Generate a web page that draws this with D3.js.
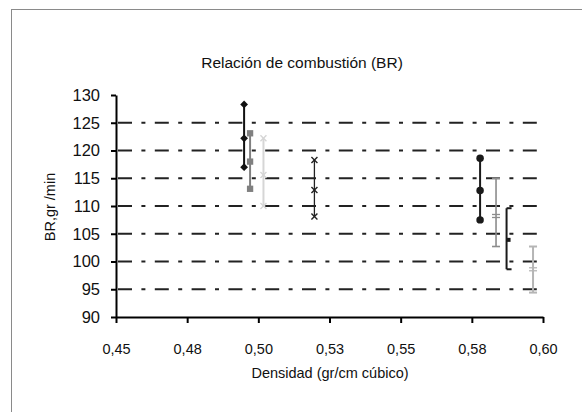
<!DOCTYPE html>
<html><head><meta charset="utf-8">
<script src="https://cdn.jsdelivr.net/npm/d3@7"></script>
<style>
body{margin:0;background:#fff}
text{font-family:"Liberation Sans",Arial,sans-serif;fill:#111}
</style>
</head><body>
<svg id="c" width="582" height="412"></svg>
<script>
// ---- data ----
const seriesNames = ["Serie 1","Serie 2","Serie 3","Serie 4","Serie 5","Serie 6","Serie 7","Serie 8"];
const densidad = [0.4950, 0.4971, 0.5018, 0.5197, 0.5779, 0.5835, 0.5872, 0.5965];
const brMedia  = [122.2, 118.0, 115.6, 112.9, 112.8, 108.2, 103.9, 98.6];
const brMin    = [117.0, 113.1, 110.0, 108.1, 107.5, 102.7, 98.6, 94.4];
const brMax    = [128.3, 123.1, 122.2, 118.3, 118.6, 115.0, 109.6, 102.7];
const xTicks = [0.45, 0.475, 0.5, 0.525, 0.55, 0.575, 0.6];
const xTickLabels = ["0,45","0,48","0,50","0,53","0,55","0,58","0,60"];
const yTicks = [90,95,100,105,110,115,120,125,130];
const gridValues = [95,100,105,110,115,120,125];
const title = "Relación de combustión (BR)";
const xTitle = "Densidad (gr/cm cúbico)";
const yTitle = "BR,gr /min";

// ---- styles (not data) ----
const styles = [
  {color:"#111", w:2,   low:"diamond", mid:"diamond", high:"diamond"},
  {color:"#808080", w:2, low:"square", mid:"square", high:"square"},
  {color:"#d6d6d6", w:2, low:"x", mid:"x", high:"x"},
  {color:"#222", w:1.3, low:"x", mid:"x", high:"x"},
  {color:"#1a1a1a", w:2, low:"circle", mid:"circle", high:"circle"},
  {color:"#8c8c8c", w:1.6, low:"plus", mid:"eq", high:"tee"},
  {color:"#1a1a1a", w:2, low:"capR", mid:"boxR", high:"capR"},
  {color:"#b5b5b5", w:2, low:"cap", mid:"eq", high:"cap"}
];

const svg = d3.select("#c");
svg.append("rect").attr("x",11.5).attr("y",9.5).attr("width",620).attr("height",420)
  .attr("fill","#fff").attr("stroke","#8a8a8a").attr("stroke-width",1);

const x = d3.scaleLinear().domain([0.45,0.6]).range([116,543]);
const y = d3.scaleLinear().domain([90,130]).range([317,95]);

// gridlines
svg.append("g").selectAll("line").data(gridValues).join("line")
  .attr("x1",118).attr("x2",543)
  .attr("y1",d=>y(d)).attr("y2",d=>y(d))
  .attr("stroke","#222").attr("stroke-width",2.2)
  .attr("stroke-dasharray","14,9.4,4,9.4");

// axes
const yAxis = svg.append("g").attr("transform","translate(116,0)")
  .call(d3.axisLeft(y).tickValues(yTicks).tickSize(5).tickSizeOuter(0).tickPadding(11));
yAxis.selectAll("text").attr("font-size",16.5).attr("fill","#111");
yAxis.attr("font-family",null).attr("font-size",null);

const xAxis = svg.append("g").attr("transform","translate(0,317)")
  .call(d3.axisBottom(x).tickValues(xTicks).tickFormat((d,i)=>xTickLabels[i]).tickSize(6).tickSizeOuter(0).tickPadding(21));
xAxis.selectAll("text").attr("font-size",14.5).attr("fill","#111");
xAxis.attr("font-family",null).attr("font-size",null);

[yAxis,xAxis].forEach(g=>{
  g.select(".domain").attr("stroke","#000").attr("stroke-width",2);
  g.selectAll(".tick line").attr("stroke","#000").attr("stroke-width",2);
});

// titles
svg.append("text").attr("x",302).attr("y",68).attr("text-anchor","middle")
  .attr("font-size",15.5).text(title);
svg.append("text").attr("x",330).attr("y",378).attr("text-anchor","middle")
  .attr("font-size",14.5).text(xTitle);
svg.append("text").attr("transform","translate(55,207) rotate(-90)").attr("text-anchor","middle")
  .attr("font-size",14.5).text(yTitle);

// error bars and markers
const plot = svg.append("g");
function marker(g, kind, cx, cy, st){
  const c = st.color;
  const ln = (x1,y1,x2,y2,w)=>g.append("line").attr("x1",x1).attr("y1",y1).attr("x2",x2).attr("y2",y2)
     .attr("stroke",c).attr("stroke-width",w||st.w);
  switch(kind){
    case "diamond": g.append("path").attr("d",d3.symbol(d3.symbolSquare,30)()).attr("transform",`translate(${cx},${cy}) rotate(45)`).attr("fill",c); break;
    case "square": g.append("path").attr("d",d3.symbol(d3.symbolSquare,40)()).attr("transform",`translate(${cx},${cy})`).attr("fill",c); break;
    case "circle": g.append("path").attr("d",d3.symbol(d3.symbolCircle,44)()).attr("transform",`translate(${cx},${cy})`).attr("fill",c); break;
    case "x": ln(cx-3,cy-3,cx+3,cy+3,1.4); ln(cx-3,cy+3,cx+3,cy-3,1.4); break;
    case "tee": ln(cx-4,cy,cx+4,cy); break;
    case "plus": ln(cx-4,cy,cx+4,cy); break;
    case "eq": ln(cx-4,cy-1.5,cx+4,cy-1.5,1.3); ln(cx-4,cy+1.5,cx+4,cy+1.5,1.3); break;
    case "cap": ln(cx-4,cy,cx+4,cy); break;
    case "capR": ln(cx,cy,cx+5,cy); break;
    case "boxR": g.append("rect").attr("x",cx).attr("y",cy-2).attr("width",4).attr("height",4).attr("fill",c); break;
  }
}
seriesNames.forEach((name,i)=>{
  const st = styles[i];
  const g = plot.append("g").attr("class","serie").attr("data-name",name);
  const cx = x(densidad[i]);
  g.append("line").attr("x1",cx).attr("x2",cx).attr("y1",y(brMin[i])).attr("y2",y(brMax[i]))
    .attr("stroke",st.color).attr("stroke-width",st.w);
  marker(g, st.high, cx, y(brMax[i]), st);
  marker(g, st.mid, cx, y(brMedia[i]), st);
  marker(g, st.low, cx, y(brMin[i]), st);
});
</script>
</body></html>
